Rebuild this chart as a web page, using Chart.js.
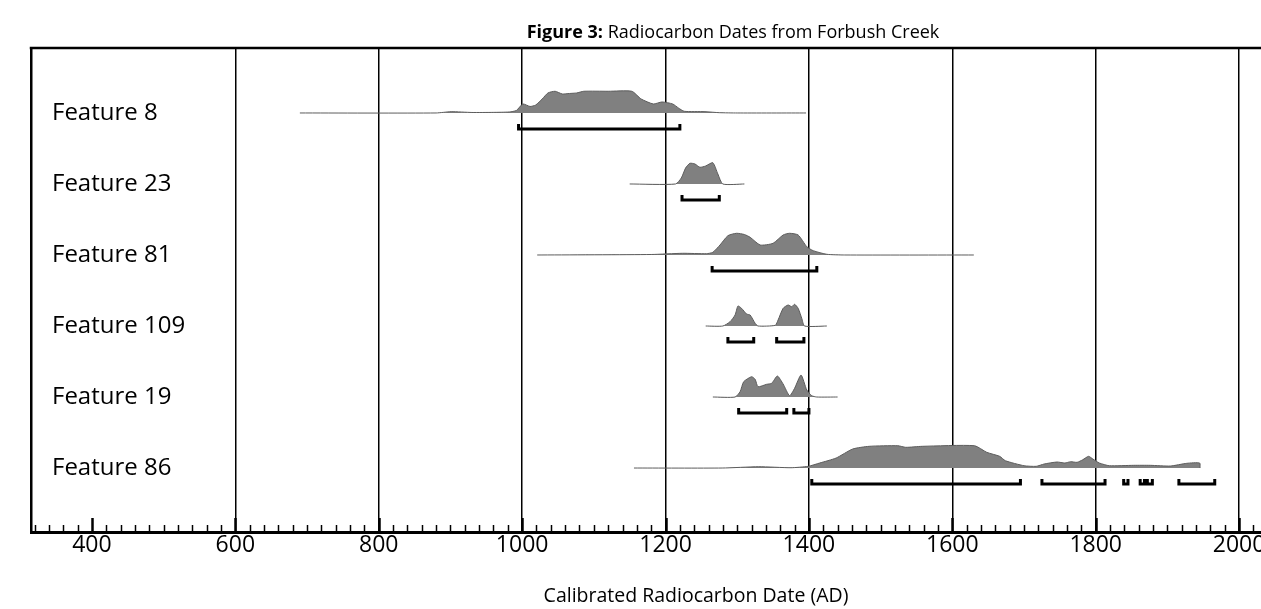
<!DOCTYPE html>
<html><head><meta charset="utf-8">
<script src="https://cdn.jsdelivr.net/npm/chart.js@4.4.1/dist/chart.umd.min.js"></script>
<style>html,body{margin:0;padding:0;overflow:hidden;background:#fff;width:1261px;height:609px}canvas{display:block}</style>
</head><body><canvas id="c" width="1361" height="609"></canvas>
<script>
// ---- data ----
const features = ['Feature 8', 'Feature 23', 'Feature 81', 'Feature 109', 'Feature 19', 'Feature 86'];

// calibrated probability distributions: [year AD, relative probability]
const dist8 = [[690,0],[880,0],[901,1.3],[930,0.5],[960,0.6],[982,1],[992,2.5],[1001,9],[1011,6.5],[1019,8],[1028,14],[1036,20],[1046,21.7],[1056,19],[1066,19.5],[1076,20],[1086,21.7],[1120,21.7],[1153,21.7],[1166,14],[1183,9],[1195,11],[1210,9],[1218,5],[1226,1.7],[1255,1.3],[1275,0.3],[1300,0],[1396,0]];
const dist23 = [[1150,0],[1214,0],[1222,6],[1228,16],[1234,20.7],[1241,20],[1248,16.7],[1256,18],[1266,21.3],[1273,10],[1280,0],[1310,0]];
const dist81 = [[1021,0],[1180,0.5],[1224,1.7],[1257,1.3],[1266,2.7],[1276,10],[1287,19.3],[1299,21.7],[1310,20.5],[1318,17.7],[1332,10],[1350,11.7],[1364,20],[1373,21.7],[1385,20],[1397,8.3],[1406,4.3],[1425,0.7],[1450,0],[1630,0]];
const dist109 = [[1256,0],[1280,0],[1290,4.3],[1297,11],[1301,20],[1306,17.7],[1313,12],[1318,11],[1325,2.7],[1329,0],[1353,0.7],[1357,6],[1364,17.7],[1371,21],[1376,19.3],[1380,21.7],[1385,17.7],[1390,7.7],[1394,0],[1425,0]];
const dist19 = [[1266,0],[1297,0],[1304,5.3],[1309,15.3],[1320,20.3],[1325,17.7],[1329,10.3],[1341,12.7],[1348,13.7],[1356,21],[1364,13],[1373,1.3],[1380,8.7],[1389,22],[1397,7],[1404,1.3],[1411,0],[1440,0]];
const dist86 = [[1156,0],[1279,0],[1330,1.3],[1375,0.3],[1399,1.7],[1415,5],[1438,10],[1461,19],[1484,21.7],[1524,22.3],[1535,20.7],[1558,21.7],[1631,22.3],[1648,15.7],[1666,11.7],[1674,7.3],[1700,2.3],[1717,1.7],[1728,4],[1746,6],[1757,5],[1765,6.3],[1774,5.7],[1782,8.3],[1790,11.7],[1796,9],[1805,5],[1819,2.3],[1853,2.7],[1876,2.7],[1904,2],[1927,4.7],[1945,5],[1945.5,0]];

// 2-sigma calibrated ranges: [start, end]
const range8 = [[995,1220]];
const range23 = [[1223,1275]];
const range81 = [[1265,1411]];
const range109 = [[1287,1323],[1355,1393]];
const range19 = [[1302,1369],[1379,1400]];
const range86 = [[1404,1695],[1725,1813],[1839,1845],[1862,1868],[1872,1879],[1916,1966]];

const xTickValues = [400, 600, 800, 1000, 1200, 1400, 1600, 1800, 2000];
const titleBold = 'Figure 3:';
const titleRest = ' Radiocarbon Dates from Forbush Creek';
const xTitle = 'Calibrated Radiocarbon Date (AD)';

// ---- chart ----
const dists = [dist8, dist23, dist81, dist109, dist19, dist86];
const ranges = [range8, range23, range81, range109, range19, range86];
const FONT = "'Open Sans', 'DejaVu Sans', sans-serif";
const rowOf = i => features.length - 1 - i;
const DENS = 1 / 71, BR_OFF = 16 / 71, BR_TICK = 5 / 71;

const datasets = [];
features.forEach((name, i) => {
  const r = rowOf(i);
  datasets.push({
    label: name,
    data: dists[i].map(([x, h]) => ({ x, y: r + h * DENS })),
    borderColor: '#5c5c5c', borderWidth: 1, backgroundColor: '#808080',
    fill: { value: r }, pointRadius: 0, tension: 0.2
  });
  const pts = [];
  ranges[i].forEach(([s, e]) => {
    const y = r - BR_OFF;
    pts.push({ x: s, y: y + BR_TICK }, { x: s, y }, { x: e, y }, { x: e, y: y + BR_TICK }, { x: e, y: null });
  });
  datasets.push({
    label: name + ' range', data: pts, borderColor: '#000', borderWidth: 3,
    fill: false, pointRadius: 0, tension: 0, spanGaps: false,
    borderCapStyle: 'butt', borderJoinStyle: 'miter'
  });
});

const decor = {
  id: 'decor',
  afterDraw(chart) {
    const { ctx, chartArea: a, scales: { x } } = chart;
    ctx.save();
    // top frame line
    ctx.strokeStyle = '#000'; ctx.lineWidth = 2.5;
    ctx.beginPath(); ctx.moveTo(a.left - 1.25, a.top); ctx.lineTo(a.right, a.top); ctx.stroke();
    // inward tick marks
    for (let v = 320; v <= x.max; v += 20) {
      const px = Math.round(x.getPixelForValue(v)) + 0.5;
      const major = v % 200 === 0;
      ctx.lineWidth = major ? 2.5 : 1.5;
      ctx.beginPath(); ctx.moveTo(px, a.bottom); ctx.lineTo(px, a.bottom - (major ? 14 : 7)); ctx.stroke();
    }
    // title
    ctx.fillStyle = '#000'; ctx.textBaseline = 'middle';
    ctx.font = 'bold 18px ' + FONT;
    const w1 = ctx.measureText(titleBold).width;
    ctx.font = '18px ' + FONT;
    const w2 = ctx.measureText(titleRest).width;
    const sx = 733 - (w1 + w2) / 2;
    ctx.font = 'bold 18px ' + FONT; ctx.textAlign = 'left';
    ctx.fillText(titleBold, sx, 33);
    ctx.font = '18px ' + FONT;
    ctx.fillText(titleRest, sx + w1, 33);
    ctx.restore();
  }
};

new Chart(document.getElementById('c'), {
  type: 'line',
  data: { datasets },
  options: {
    responsive: false, animation: false, devicePixelRatio: 1,
    layout: { padding: { left: 31, top: 48, right: 0, bottom: 0 } },
    plugins: { legend: { display: false }, tooltip: { enabled: false }, title: { display: false } },
    scales: {
      x: {
        type: 'linear', min: 315, max: 2170, z: 1,
        afterBuildTicks: s => { s.ticks = xTickValues.map(v => ({ value: v })); },
        afterFit: s => { s.height = 77; },
        grid: {
          color: c => (c.tick && c.tick.value === 400) ? 'rgba(0,0,0,0)' : '#000',
          lineWidth: 1.5, drawTicks: false
        },
        border: { display: true, color: '#000', width: 3 },
        ticks: { color: '#000', font: { family: FONT, size: 23 }, padding: 0, maxRotation: 0, autoSkip: false, callback: v => String(v) },
        title: { display: true, text: xTitle, color: '#000', font: { family: FONT, size: 19.5 }, padding: { top: 0, bottom: 1 } }
      },
      y: {
        type: 'linear', min: -0.901, max: 5.915,
        afterBuildTicks: s => { s.ticks = features.map((n, i) => ({ value: rowOf(i) })); },
        afterFit: s => { s.width = 0; },
        grid: { display: false, drawTicks: false },
        border: { display: true, color: '#000', width: 2.5 },
        ticks: {
          mirror: true, padding: 21, color: '#000', font: { family: FONT, size: 24 },
          callback: v => features[features.length - 1 - Math.round(v)]
        }
      }
    }
  },
  plugins: [decor]
});
</script>
</body></html>
